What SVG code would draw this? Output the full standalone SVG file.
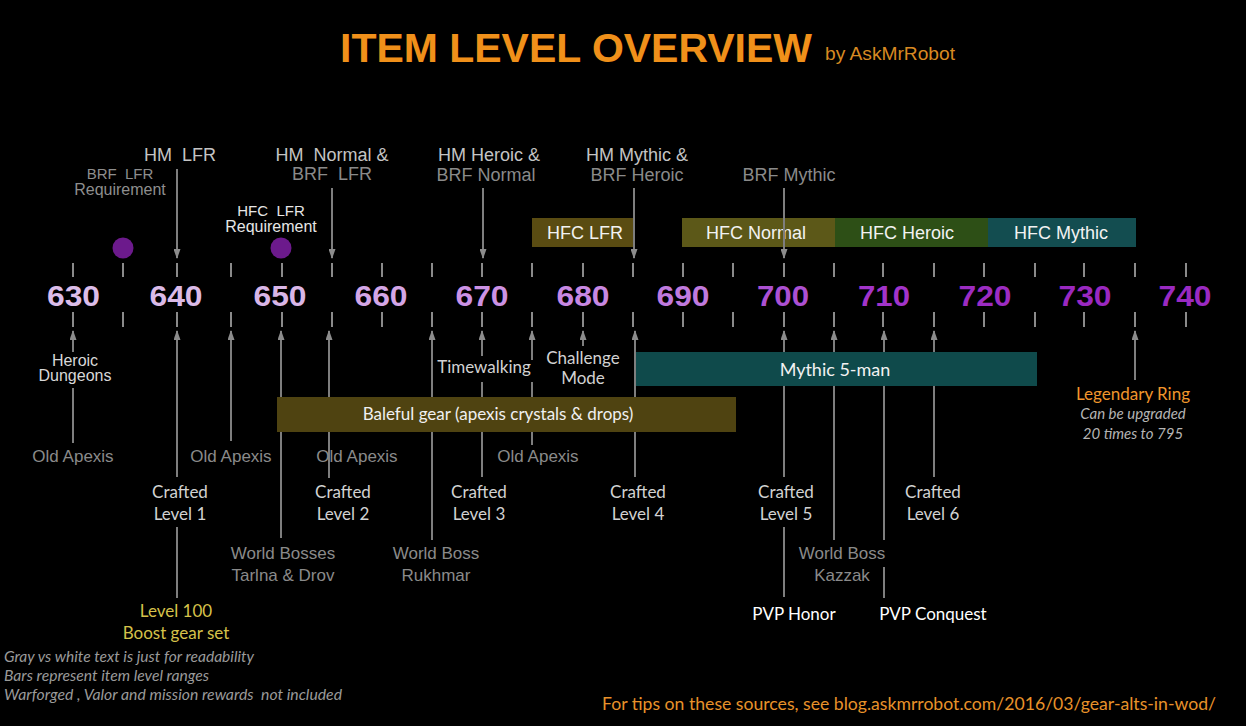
<svg xmlns="http://www.w3.org/2000/svg" width="1246" height="726" viewBox="0 0 1246 726">
<defs>
<marker id="ah" viewBox="0 0 10 7" refX="9" refY="3.5" markerWidth="10" markerHeight="7" markerUnits="userSpaceOnUse" orient="auto"><path d="M0,0 L10,3.5 L0,7 z" fill="#8c8c8c"/></marker>
<style>
.ar{font-family:"Liberation Sans",Arial,sans-serif;text-anchor:middle;white-space:pre}
.my{font-family:Lato,"Open Sans",sans-serif;text-anchor:middle}
.num{font-family:"Liberation Sans",Arial,sans-serif;font-weight:bold;font-size:29px;text-anchor:middle}
.hm{font-size:18px;fill:#c4c4c4}
.brf{font-size:18px;fill:#8a8a8a}
.req{font-size:16px}
.old{font-size:17px;fill:#8a8a8a}
.cr{font-size:17px;fill:#d2d2d2}
.bar{font-size:18px;fill:#f2f2f2}
.tick{stroke:#8a8a8a;stroke-width:2}
.ln{stroke:#7e7e7e;stroke-width:2;fill:none}
.note{font-family:Lato,"Open Sans",sans-serif;font-style:italic;font-size:15px;fill:#9a9a9a;white-space:pre}
</style>
</defs>
<rect width="1246" height="726" fill="#000"/>

<g id="title">
<text x="340" y="62" font-family="Liberation Sans,Arial,sans-serif" font-weight="bold" font-size="41" fill="#f0901a" textLength="472" lengthAdjust="spacingAndGlyphs">ITEM LEVEL OVERVIEW</text>
<text x="825" y="60" font-family="Liberation Sans,Arial,sans-serif" font-size="19" fill="#d88a22" textLength="130" lengthAdjust="spacingAndGlyphs">by AskMrRobot</text>
</g>

<g id="axis">
<g class="tick">
<path d="M73,263V277M123,263V277M177,263V277M231,263V277M282,263V277M332,263V277M382,263V277M432,263V277M482,263V277M532,263V277M583,263V277M633,263V277M683,263V277M733,263V277M784,263V277M834,263V277M883,263V277M934,263V277M984,263V277M1035,263V277M1084,263V277M1135,263V277M1186,263V277"/>
<path d="M73,312V327M123,312V327M177,312V327M231,312V327M282,312V327M332,312V327M382,312V327M432,312V327M482,312V327M532,312V327M583,312V327M633,312V327M683,312V327M733,312V327M784,312V327M834,312V327M883,312V327M934,312V327M984,312V327M1035,312V327M1084,312V327M1135,312V327M1186,312V327"/>
</g>
<text class="num" x="73.5" y="306" fill="#dcbde9" textLength="53" lengthAdjust="spacingAndGlyphs">630</text>
<text class="num" x="176" y="306" fill="#dbbbe8" textLength="53" lengthAdjust="spacingAndGlyphs">640</text>
<text class="num" x="280" y="306" fill="#d9b6e7" textLength="53" lengthAdjust="spacingAndGlyphs">650</text>
<text class="num" x="381" y="306" fill="#d4a6e6" textLength="53" lengthAdjust="spacingAndGlyphs">660</text>
<text class="num" x="482" y="306" fill="#cc92e4" textLength="53" lengthAdjust="spacingAndGlyphs">670</text>
<text class="num" x="583" y="306" fill="#c888e2" textLength="53" lengthAdjust="spacingAndGlyphs">680</text>
<text class="num" x="683" y="306" fill="#c07ade" textLength="53" lengthAdjust="spacingAndGlyphs">690</text>
<text class="num" x="783" y="306" fill="#ac50d2" textLength="52" lengthAdjust="spacingAndGlyphs">700</text>
<text class="num" x="884" y="306" fill="#a234ca" textLength="52" lengthAdjust="spacingAndGlyphs">710</text>
<text class="num" x="985" y="306" fill="#9c2cc2" textLength="53" lengthAdjust="spacingAndGlyphs">720</text>
<text class="num" x="1085" y="306" fill="#9a28c0" textLength="53" lengthAdjust="spacingAndGlyphs">730</text>
<text class="num" x="1185" y="306" fill="#9a2ac2" textLength="53" lengthAdjust="spacingAndGlyphs">740</text>
</g>

<g id="dots">
<circle cx="123" cy="248" r="10.5" fill="#6c1a8c"/>
<circle cx="281" cy="248" r="10.5" fill="#6c1a8c"/>
</g>

<g id="top-bars">
<g id="hfc-lfr"><rect x="532" y="218" width="101" height="29" fill="#5a4c12"/><text class="ar bar" x="585" y="239">HFC LFR</text></g>
<g id="hfc-normal"><rect x="682" y="218" width="153" height="29" fill="#5c5818"/><text class="ar bar" x="756" y="239">HFC Normal</text></g>
<g id="hfc-heroic"><rect x="835" y="218" width="153" height="29" fill="#2d4f16"/><text class="ar bar" x="907" y="239">HFC Heroic</text></g>
<g id="hfc-mythic"><rect x="988" y="218" width="148" height="29" fill="#134d50"/><text class="ar bar" x="1061" y="239">HFC Mythic</text></g>
</g>

<g id="connectors">
<path class="ln" d="M177,169V258" marker-end="url(#ah)"/>
<path class="ln" d="M332,188V258" marker-end="url(#ah)"/>
<path class="ln" d="M483,188V258" marker-end="url(#ah)"/>
<path class="ln" d="M634,188V258" marker-end="url(#ah)"/>
<path class="ln" d="M784,188V258" marker-end="url(#ah)"/>

<path class="ln" d="M73,443V388"/>
<path class="ln" d="M73,352V331" marker-end="url(#ah)"/>
<path class="ln" d="M177,477V331" marker-end="url(#ah)"/>
<path class="ln" d="M177,527V598"/>
<path class="ln" d="M231,441V331" marker-end="url(#ah)"/>
<path class="ln" d="M281,538V331" marker-end="url(#ah)"/>
<path class="ln" d="M329,478V331" marker-end="url(#ah)"/>
<path class="ln" d="M432,540V331" marker-end="url(#ah)"/>
<path class="ln" d="M482,477V382"/>
<path class="ln" d="M482,356V331" marker-end="url(#ah)"/>
<path class="ln" d="M532,445V382"/>
<path class="ln" d="M532,360V331" marker-end="url(#ah)"/>
<path class="ln" d="M583,346V331" marker-end="url(#ah)"/>
<path class="ln" d="M635,477V331" marker-end="url(#ah)"/>
<path class="ln" d="M784,477V331" marker-end="url(#ah)"/>
<path class="ln" d="M784,527V597"/>
<path class="ln" d="M834,540V331" marker-end="url(#ah)"/>
<path class="ln" d="M884,540V331" marker-end="url(#ah)"/>
<path class="ln" d="M884,567V598"/>
<path class="ln" d="M934,477V331" marker-end="url(#ah)"/>
<path class="ln" d="M1135,380V331" marker-end="url(#ah)"/>
</g>

<g id="top-labels">
<g id="hm-lfr"><text class="ar hm" x="180" y="161" xml:space="preserve">HM  LFR</text></g>
<g id="brf-lfr-req"><text class="ar" x="120" y="179" font-size="15" fill="#8e8e8e" xml:space="preserve">BRF  LFR</text><text class="ar req" x="120" y="195" fill="#8e8e8e">Requirement</text></g>
<g id="hm-normal"><text class="ar hm" x="332" y="161" xml:space="preserve">HM  Normal &amp;</text><text class="ar brf" x="332" y="180" xml:space="preserve">BRF  LFR</text></g>
<g id="hfc-lfr-req"><text class="ar" x="271" y="216" font-size="15" fill="#e6e6e6" xml:space="preserve">HFC  LFR</text><text class="ar req" x="271" y="232" fill="#e6e6e6">Requirement</text></g>
<g id="hm-heroic"><text class="ar hm" x="489" y="161">HM Heroic &amp;</text><text class="ar brf" x="486" y="181">BRF Normal</text></g>
<g id="hm-mythic"><text class="ar hm" x="637" y="161">HM Mythic &amp;</text><text class="ar brf" x="637" y="181">BRF Heroic</text></g>
<g id="brf-mythic"><text class="ar brf" x="789" y="181">BRF Mythic</text></g>
</g>

<g id="low-bars">
<g id="mythic5"><rect x="636" y="352" width="401" height="34" fill="#0f4a4b"/><text class="my bar" x="835" y="376">Mythic 5-man</text></g>
<g id="baleful"><rect x="277" y="397" width="459" height="35" fill="#4f4311"/><text class="my" x="498" y="420" font-size="17" fill="#f0f0f0">Baleful gear (apexis crystals &amp; drops)</text></g>
</g>

<g id="low-labels">
<g id="heroic-dungeons"><text class="ar" x="75" y="366" font-size="16" fill="#d8d8d8">Heroic</text><text class="ar" x="75" y="381" font-size="16" fill="#d8d8d8">Dungeons</text></g>
<g id="old-apexis-1"><text class="ar old" x="73" y="462">Old Apexis</text></g>
<g id="old-apexis-2"><text class="ar old" x="231" y="462">Old Apexis</text></g>
<g id="old-apexis-3"><text class="ar old" x="357" y="462">Old Apexis</text></g>
<g id="old-apexis-4"><text class="ar old" x="538" y="462">Old Apexis</text></g>
<g id="crafted1"><text class="my cr" x="180" y="498">Crafted</text><text class="my cr" x="180" y="520">Level 1</text></g>
<g id="crafted2"><text class="my cr" x="343" y="498">Crafted</text><text class="my cr" x="343" y="520">Level 2</text></g>
<g id="crafted3"><text class="my cr" x="479" y="498">Crafted</text><text class="my cr" x="479" y="520">Level 3</text></g>
<g id="crafted4"><text class="my cr" x="638" y="498">Crafted</text><text class="my cr" x="638" y="520">Level 4</text></g>
<g id="crafted5"><text class="my cr" x="786" y="498">Crafted</text><text class="my cr" x="786" y="520">Level 5</text></g>
<g id="crafted6"><text class="my cr" x="933" y="498">Crafted</text><text class="my cr" x="933" y="520">Level 6</text></g>
<g id="world-bosses"><text class="ar old" x="283" y="559">World Bosses</text><text class="ar old" x="283" y="581">Tarlna &amp; Drov</text></g>
<g id="rukhmar"><text class="ar old" x="436" y="559">World Boss</text><text class="ar old" x="436" y="581">Rukhmar</text></g>
<g id="kazzak"><text class="ar old" x="842" y="559">World Boss</text><text class="ar old" x="842" y="581">Kazzak</text></g>
<g id="boost"><text class="my" x="176" y="617" font-size="17" fill="#d6c24a">Level 100</text><text class="my" x="176" y="639" font-size="17" fill="#d6c24a">Boost gear set</text></g>
<g id="pvp-honor"><text class="my" x="794" y="620" font-size="17" fill="#ffffff">PVP Honor</text></g>
<g id="pvp-conquest"><text class="my" x="933" y="620" font-size="17" fill="#ffffff">PVP Conquest</text></g>
<g id="timewalking"><text class="my cr" x="484" y="373" font-size="16">Timewalking</text></g>
<g id="challenge"><text class="my cr" x="583" y="364">Challenge</text><text class="my cr" x="583" y="384">Mode</text></g>
<g id="legendary"><text class="my" x="1133" y="400" font-size="17" fill="#f0962c">Legendary Ring</text><text class="my" x="1133" y="419" font-size="15" font-style="italic" fill="#b4b4b4">Can be upgraded</text><text class="my" x="1133" y="439" font-size="15" font-style="italic" fill="#b4b4b4">20 times to 795</text></g>
</g>

<g id="notes">
<text class="note" x="4" y="662" textLength="250" lengthAdjust="spacingAndGlyphs">Gray vs white text is just for readability</text>
<text class="note" x="4" y="681" textLength="205" lengthAdjust="spacingAndGlyphs">Bars represent item level ranges</text>
<text class="note" x="4" y="700" textLength="338" lengthAdjust="spacingAndGlyphs" xml:space="preserve">Warforged , Valor and mission rewards  not included</text>
</g>
<g id="footer"><text x="602" y="710" font-family="Lato,Open Sans,sans-serif" font-size="17" fill="#e8922a" textLength="614" lengthAdjust="spacingAndGlyphs">For tips on these sources, see blog.askmrrobot.com/2016/03/gear-alts-in-wod/</text></g>
</svg>
